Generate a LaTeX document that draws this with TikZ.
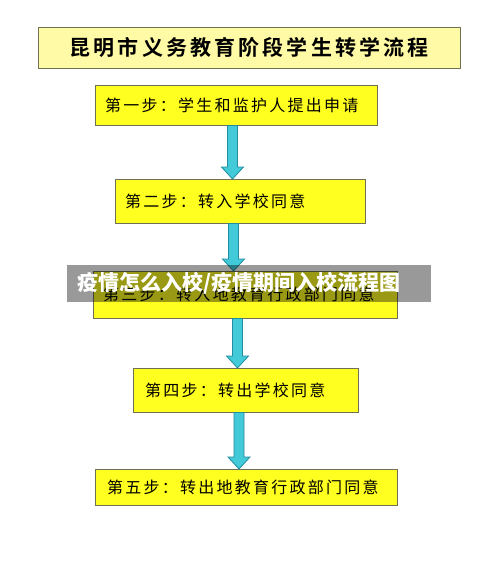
\documentclass[tikz,border=0pt]{standalone}
\usepackage{fontspec}
\setmainfont{Noto Sans CJK SC}
\newfontfamily\stepfont[LetterSpace=14]{Noto Sans CJK SC}
\newfontfamily\titlefont[LetterSpace=15]{Noto Sans CJK SC Bold}
\usetikzlibrary{calc}
\definecolor{titlefill}{RGB}{255,250,165}
\definecolor{stepfill}{RGB}{255,255,32}
\definecolor{boxline}{RGB}{112,112,82}
\definecolor{arrowfill}{RGB}{66,202,216}
\definecolor{arrowline}{RGB}{34,140,160}
% arrow from node #2 down to node #3, shaft on column #1
\newcommand{\flowarrow}[3]{%
  \path (#1 |- #2.south) coordinate (as) (#1 |- #3.north) coordinate (ae);
  \draw[arrowshape] ($(as)+(-5,0)$) -- ($(ae)+(-5,-12)$) -- ($(ae)+(-11,-12)$) -- (ae)
    -- ($(ae)+(11,-12)$) -- ($(ae)+(5,-12)$) -- ($(as)+(5,0)$) -- cycle;
}
\begin{document}
\begin{tikzpicture}[x=1pt,y=-1pt,
  titlebox/.style={draw=boxline,fill=titlefill,anchor=north west,inner sep=0pt,
    font=\titlefont\fontsize{21}{24}\selectfont},
  stepbox/.style={draw=boxline,fill=stepfill,anchor=north west,inner xsep=10pt,inner ysep=0pt,
    align=left,font=\stepfont\fontsize{16}{19}\selectfont},
  arrowshape/.style={draw=arrowline,fill=arrowfill,line width=0.8pt,line join=miter},
  banner/.style={fill=black,fill opacity=0.4,text=white,text opacity=1,anchor=north west,
    inner xsep=10pt,inner ysep=0pt,align=left,font=\bfseries\fontsize{21}{24}\selectfont}]
  \useasboundingbox (0,0) rectangle (500,568);
  \node[titlebox,minimum width=422,minimum height=41] (title) at (38,27) {昆明市义务教育阶段学生转学流程};
  \node[stepbox,minimum width=282,minimum height=40,text width=262] (s1) at (95,85) {第一步：学生和监护人提出申请};
  \node[stepbox,minimum width=250,minimum height=44,text width=230] (s2) at (115,179) {第二步：转入学校同意};
  \node[stepbox,minimum width=304,minimum height=47,text width=284] (s3) at (93,271) {第三步：转入地教育行政部门同意};
  \node[stepbox,minimum width=225,minimum height=44,text width=201,inner xsep=12pt] (s4) at (133,368) {第四步：转出学校同意};
  \node[stepbox,minimum width=302,minimum height=36,text width=278,inner xsep=12pt] (s5) at (95,469) {第五步：转出地教育行政部门同意};
  \coordinate (c1) at (232.5,0);
  \coordinate (c2) at (233.5,0);
  \coordinate (c3) at (237.5,0);
  \coordinate (c4) at (239,0);
  \flowarrow{c1}{s1}{s2}
  \flowarrow{c2}{s2}{s3}
  \flowarrow{c3}{s3}{s4}
  \flowarrow{c4}{s4}{s5}
  \node[banner,minimum width=364,minimum height=37,text width=344] (band) at (67,265) {疫情怎么入校/疫情期间入校流程图};
\end{tikzpicture}
\end{document}
